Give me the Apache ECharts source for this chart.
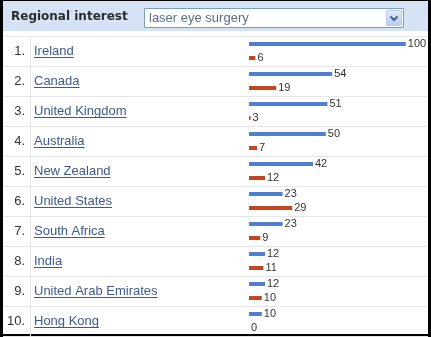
<!DOCTYPE html>
<html>
<head>
<meta charset="utf-8">
<script src="https://cdn.jsdelivr.net/npm/echarts@6/dist/echarts.min.js"></script>
<style>
  html, body { margin: 0; padding: 0; background: #fff; }
  #chart { width: 431px; height: 337px; }
</style>
</head>
<body>
<div id="chart"></div>
<script>
// Regional interest table: rank, country and two relative interest bars per row
const ranks = ['1.', '2.', '3.', '4.', '5.', '6.', '7.', '8.', '9.', '10.'];
const countries = ['Ireland', 'Canada', 'United Kingdom', 'Australia', 'New Zealand',
  'United States', 'South Africa', 'India', 'United Arab Emirates', 'Hong Kong'];
const blueValues = [100, 54, 51, 50, 42, 23, 23, 12, 12, 10];
const redValues = [6, 19, 3, 7, 12, 29, 9, 11, 10, 0];
const headerTitle = 'Regional interest';
const queryTerm = 'laser eye surgery';

const axisMin = 2;
const axisMax = 100;
const FONT = 'Arial, "Liberation Sans", sans-serif';
const TITLE_FONT = 'Verdana, "DejaVu Sans", sans-serif';
const BLUE = '#4f80d0';
const RED = '#c4451f';
const LINK = '#3f5a8c';

const chart = echarts.init(document.getElementById('chart'), null, { renderer: 'canvas' });

// bar + value label drawn on the value axis; offset moves the bar within the row
function barRenderer(offset, color) {
  return function (params, api) {
    const v = api.value(0);
    const cat = api.value(1);
    const start = api.coord([axisMin, cat]);
    const end = api.coord([Math.max(v, axisMin), cat]);
    const y = start[1] + offset;
    const children = [];
    if (end[0] - start[0] > 0) {
      children.push({
        type: 'rect',
        shape: { x: start[0], y: y - 2, width: end[0] - start[0], height: 4 },
        style: { fill: color }
      });
    }
    children.push({
      type: 'text',
      x: end[0] + 2,
      y: y,
      style: {
        text: String(v), fontSize: 11, fontFamily: FONT, fill: '#333',
        align: 'left', verticalAlign: 'middle'
      }
    });
    return { type: 'group', children: children };
  };
}

const option = {
  backgroundColor: '#000',
  animation: false,
  grid: [
    { left: 249, right: 25.2, top: 36, height: 300 },
    { left: 3, right: 3, top: 36, height: 300 }
  ],
  xAxis: [
    { gridIndex: 0, type: 'value', min: axisMin, max: axisMax, show: false },
    { gridIndex: 1, type: 'value', min: 0, max: 1, show: false }
  ],
  yAxis: [
    {
      gridIndex: 0, type: 'category', inverse: true, data: countries,
      axisLine: { show: false }, axisTick: { show: false }, splitLine: { show: false },
      axisLabel: {
        align: 'left', margin: 249 - 34, color: LINK,
        fontFamily: FONT, fontSize: 13
      }
    },
    {
      gridIndex: 1, type: 'category', inverse: true, data: ranks,
      axisLine: { show: false }, axisTick: { show: false },
      splitLine: { show: true, lineStyle: { color: '#e6e6e6', width: 1 } },
      axisLabel: {
        inside: true, align: 'right', margin: 22, color: '#333',
        fontFamily: FONT, fontSize: 13
      }
    }
  ],
  series: [
    {
      type: 'custom', name: 'blue', xAxisIndex: 0, yAxisIndex: 0,
      data: blueValues.map((v, i) => [v, i]),
      encode: { x: 0, y: 1 },
      renderItem: barRenderer(-7, BLUE)
    },
    {
      type: 'custom', name: 'red', xAxisIndex: 0, yAxisIndex: 0,
      data: redValues.map((v, i) => [v, i]),
      encode: { x: 0, y: 1 },
      renderItem: barRenderer(7, RED)
    }
  ]
};

chart.setOption(option);

// header, frame, column divider and link underlines
const measure = document.createElement('canvas').getContext('2d');
measure.font = '13px ' + FONT;

const gridRect = chart.getModel().getComponent('grid', 1).coordinateSystem.getRect();
const elements = [
  { type: 'rect', z: -10, shape: { x: 3, y: 1, width: 425, height: 333 }, style: { fill: '#fff' } },
  { type: 'rect', z: -5, shape: { x: 3, y: 1, width: 425, height: 30 }, style: { fill: '#d6e3f4' } },
  {
    type: 'text', z: 10, x: 11, y: 17,
    style: {
      text: headerTitle, fontSize: 12, fontWeight: 'bold', fontFamily: TITLE_FONT,
      fill: '#2b2b2b', align: 'left', verticalAlign: 'middle'
    }
  },
  {
    type: 'rect', z: 10, shape: { x: 144.5, y: 8.5, width: 259, height: 19 },
    style: { fill: '#fff', stroke: '#7f9db9', lineWidth: 1 }
  },
  {
    type: 'text', z: 11, x: 149, y: 18.5,
    style: {
      text: queryTerm, fontSize: 13, fontFamily: FONT, fill: '#5d6d84',
      align: 'left', verticalAlign: 'middle'
    }
  },
  {
    type: 'rect', z: 11, shape: { x: 386.5, y: 10.5, width: 15, height: 15, r: 1 },
    style: {
      stroke: '#b7c9e8', lineWidth: 1,
      fill: new echarts.graphic.LinearGradient(0, 0, 0, 1, [
        { offset: 0, color: '#e2ebf9' }, { offset: 1, color: '#b7cbee' }
      ])
    }
  },
  {
    type: 'polyline', z: 12, shape: { points: [[390.5, 16.5], [394, 20], [397.5, 16.5]] },
    style: { stroke: '#4d6185', lineWidth: 2, fill: null }
  },
  {
    type: 'line', z: 5, shape: { x1: 30.5, y1: gridRect.y, x2: 30.5, y2: gridRect.y + gridRect.height },
    style: { stroke: '#e6e6e6', lineWidth: 1 }
  }
];

countries.forEach((name, i) => {
  const cy = chart.convertToPixel({ yAxisIndex: 0 }, i);
  const w = measure.measureText(name).width;
  const uy = Math.round(cy + 6) + 0.5;
  elements.push({
    type: 'line', z: 10, shape: { x1: 34, y1: uy, x2: 34 + w, y2: uy },
    style: { stroke: LINK, lineWidth: 1 }
  });
});

chart.setOption({ graphic: { elements: elements } });
</script>
</body>
</html>
